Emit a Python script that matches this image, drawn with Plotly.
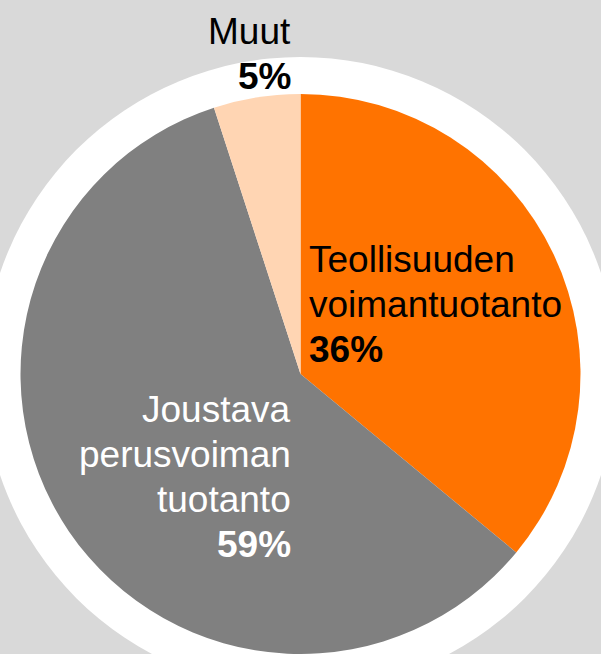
import plotly.graph_objects as go

# Data
categories = ["Teollisuuden voimantuotanto", "Joustava perusvoiman tuotanto", "Muut"]
values = [36, 59, 5]
colors = ["#FF7300", "#808080", "#FFD5B3"]
label_lines = [["Teollisuuden", "voimantuotanto"], ["Joustava", "perusvoiman", "tuotanto"], ["Muut"]]
pct_labels = ["36%", "59%", "5%"]

W, H = 601, 654
FONT = "Liberation Sans, Arial, sans-serif"
FS = 37
LINE = 45

fig = go.Figure(go.Pie(
    labels=categories,
    values=values,
    marker=dict(colors=colors, line=dict(width=0)),
    sort=False,
    direction="clockwise",
    rotation=0,
    textinfo="none",
    hoverinfo="label+percent",
    showlegend=False,
    domain=dict(x=[0, 1], y=[0, 560 / H]),
))

def px(x):
    return x / W

def py(y):
    return (H - y) / H

# white ring circle behind the pie
cx, cy, r = 300.5, 374, 317
fig.add_shape(type="circle", xref="paper", yref="paper",
              x0=px(cx - r), x1=px(cx + r), y0=py(cy + r), y1=py(cy - r),
              fillcolor="white", line=dict(width=0), layer="below")

def add_block(lines, pct, x, first_baseline, anchor, color):
    texts = list(lines) + ["<b>" + pct + "</b>"]
    for i, t in enumerate(texts):
        base = first_baseline + i * LINE
        fig.add_annotation(x=px(x), y=py(base + 13), xref="paper", yref="paper",
                           text=t, showarrow=False, xanchor=anchor, yanchor="bottom",
                           align=anchor,
                           font=dict(family=FONT, size=FS, color=color))

add_block(label_lines[0], pct_labels[0], 307, 269, "left", "black")
add_block(label_lines[1], pct_labels[1], 293, 419, "right", "white")
add_block(label_lines[2], pct_labels[2], 293, 41, "right", "black")

fig.update_layout(width=W, height=H, margin=dict(l=0, r=0, t=0, b=0),
                  paper_bgcolor="#D9D9D9", plot_bgcolor="#D9D9D9")
fig.write_html("out.html", config={"displayModeBar": False},
               post_script="document.body.style.margin='0';document.body.style.overflow='hidden';")
